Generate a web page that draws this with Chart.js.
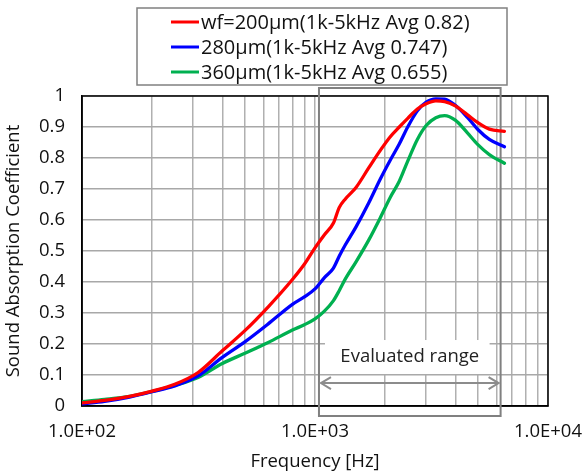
<!DOCTYPE html>
<html>
<head>
<meta charset="utf-8">
<script src="https://cdn.jsdelivr.net/npm/chart.js@4/dist/chart.umd.min.js"></script>
<style>
  html, body { margin: 0; padding: 0; background: #fff; }
  #wrap { width: 588px; height: 473px; position: relative; }
</style>
</head>
<body>
<div id="wrap"><canvas id="c" width="588" height="473"></canvas></div>
<script>
// Frequency points [Hz]
const frequencies = [100, 125, 160, 200, 250, 315, 400, 500, 630, 800, 900, 1000, 1100, 1200, 1270, 1350, 1500, 1700, 1900, 2100, 2300, 2500, 2750, 3000, 3300, 3600, 4000, 4500, 5000, 5600, 6500];

// Sound absorption coefficient per fibre width
const alpha200 = [0.010, 0.018, 0.031, 0.048, 0.070, 0.108, 0.178, 0.243, 0.320, 0.408, 0.457, 0.510, 0.553, 0.590, 0.640, 0.668, 0.705, 0.768, 0.823, 0.868, 0.900, 0.928, 0.958, 0.975, 0.984, 0.982, 0.968, 0.940, 0.914, 0.893, 0.886];
const alpha280 = [0.007, 0.015, 0.029, 0.046, 0.065, 0.097, 0.157, 0.207, 0.265, 0.328, 0.352, 0.378, 0.415, 0.445, 0.483, 0.520, 0.578, 0.655, 0.730, 0.792, 0.845, 0.900, 0.952, 0.980, 0.991, 0.990, 0.970, 0.932, 0.892, 0.860, 0.836];
const alpha360 = [0.014, 0.021, 0.031, 0.047, 0.066, 0.092, 0.137, 0.170, 0.205, 0.245, 0.262, 0.281, 0.307, 0.340, 0.372, 0.410, 0.465, 0.535, 0.605, 0.672, 0.725, 0.790, 0.860, 0.905, 0.930, 0.937, 0.922, 0.882, 0.843, 0.811, 0.783];

const seriesLabels = ['wf=200\u03bcm(1k-5kHz Avg 0.82)', '280\u03bcm(1k-5kHz Avg 0.747)', '360\u03bcm(1k-5kHz Avg 0.655)'];
const seriesColors = ['#ff0000', '#0000ff', '#00b050'];

// Grid ticks on the log axis (1..9 per decade) and decade labels
const xGridValues = [100, 200, 300, 400, 500, 600, 700, 800, 900, 1000, 2000, 3000, 4000, 5000, 6000, 7000, 8000, 9000, 10000];
const xDecadeLabels = { 100: '1.0E+02', 1000: '1.0E+03', 10000: '1.0E+04' };

// Evaluated range band
const rangeStart = 1040;
const rangeEnd = 6260;
const rangeText = 'Evaluated range';

const FONT = '"Open Sans", "Noto Sans", sans-serif';

function toPoints(vals) {
  return frequencies.map((f, i) => ({ x: f, y: vals[i] }));
}

const rangePlugin = {
  id: 'rangeBox',
  beforeDatasetsDraw(chart) {
    const { ctx, chartArea, scales } = chart;
    const xs = scales.x, ys = scales.y;
    const x0 = xs.getPixelForValue(rangeStart);
    const x1 = xs.getPixelForValue(rangeEnd);
    const top = chartArea.top - 8;
    const bottom = chartArea.bottom + 10;
    ctx.save();
    // plot frame
    ctx.strokeStyle = '#000';
    ctx.lineWidth = 1.5;
    ctx.strokeRect(chartArea.left, chartArea.top, chartArea.right - chartArea.left, chartArea.bottom - chartArea.top);
    // label background
    const ty = ys.getPixelForValue(0.158);
    ctx.fillStyle = '#fff';
    ctx.fillRect(x0 + 6, ty - 17, (x1 - x0) - 17, 34);
    // band outline
    ctx.strokeStyle = '#808080';
    ctx.lineWidth = 2;
    ctx.strokeRect(x0, top, x1 - x0, bottom - top);
    // label
    ctx.fillStyle = '#222';
    ctx.font = '18.5px ' + FONT;
    ctx.textAlign = 'center';
    ctx.textBaseline = 'middle';
    ctx.fillText(rangeText, (x0 + x1) / 2, ty);
    // double arrow
    const ay = ys.getPixelForValue(0.074);
    const ax0 = x0 + 2, ax1 = x1 - 2;
    ctx.strokeStyle = '#8c8c8c';
    ctx.lineWidth = 2;
    ctx.beginPath();
    ctx.moveTo(ax0, ay); ctx.lineTo(ax1, ay);
    ctx.moveTo(ax0 + 10, ay - 6); ctx.lineTo(ax0, ay); ctx.lineTo(ax0 + 10, ay + 6);
    ctx.moveTo(ax1 - 10, ay - 6); ctx.lineTo(ax1, ay); ctx.lineTo(ax1 - 10, ay + 6);
    ctx.stroke();
    ctx.restore();
  }
};

const legendPlugin = {
  id: 'boxLegend',
  afterDraw(chart) {
    const { ctx } = chart;
    const bx = 137, by = 8, bw = 370, bh = 77;
    ctx.save();
    ctx.fillStyle = '#fff';
    ctx.fillRect(bx, by, bw, bh);
    ctx.strokeStyle = '#808080';
    ctx.lineWidth = 1.5;
    ctx.strokeRect(bx, by, bw, bh);
    ctx.font = '20px ' + FONT;
    ctx.textBaseline = 'middle';
    ctx.textAlign = 'left';
    chart.data.datasets.forEach((ds, i) => {
      const y = 22 + i * 25;
      ctx.strokeStyle = ds.borderColor;
      ctx.lineWidth = 3;
      ctx.beginPath();
      ctx.moveTo(171, y); ctx.lineTo(199, y);
      ctx.stroke();
      ctx.fillStyle = '#111';
      ctx.fillText(ds.label, 201, y + 1);
    });
    ctx.restore();
  }
};

new Chart(document.getElementById('c'), {
  type: 'line',
  data: {
    datasets: [
      { label: seriesLabels[0], data: toPoints(alpha200), borderColor: seriesColors[0] },
      { label: seriesLabels[1], data: toPoints(alpha280), borderColor: seriesColors[1] },
      { label: seriesLabels[2], data: toPoints(alpha360), borderColor: seriesColors[2] }
    ]
  },
  options: {
    responsive: false,
    animation: false,
    layout: { padding: { top: 96, right: 40, bottom: 0, left: 0 } },
    elements: {
      line: { borderWidth: 3.3, cubicInterpolationMode: 'monotone', borderCapStyle: 'round', fill: false },
      point: { radius: 0 }
    },
    plugins: { legend: { display: false }, tooltip: { enabled: false } },
    scales: {
      x: {
        type: 'logarithmic',
        min: 100,
        max: 10000,
        afterBuildTicks(scale) { scale.ticks = xGridValues.map(v => ({ value: v })); },
        afterFit(scale) { scale.height = 67; scale.paddingLeft = 0; scale.paddingRight = 0; },
        grid: { color: '#b0b0b0', lineWidth: 1.5, drawTicks: false },
        border: { color: '#000', width: 1.5 },
        ticks: {
          autoSkip: false, maxRotation: 0, minRotation: 0, padding: 15,
          color: '#111', font: { family: FONT, size: 18.5 },
          callback: (v) => xDecadeLabels[v] || ''
        },
        title: { display: true, text: 'Frequency [Hz]', color: '#111', font: { family: FONT, size: 18.5 }, padding: { top: 0, bottom: 0 } }
      },
      y: {
        min: 0,
        max: 1,
        afterFit(scale) { scale.width = 82; scale.paddingTop = 0; scale.paddingBottom = 0; },
        grid: { color: '#a8a8a8', lineWidth: 1.5, drawTicks: false },
        border: { color: '#000', width: 1.5 },
        ticks: {
          stepSize: 0.1, padding: 17, color: '#111', font: { family: FONT, size: 18.5 },
          callback: (v) => (v === 0 ? '0' : (Math.abs(v - 1) < 1e-9 ? '1' : v.toFixed(1)))
        },
        title: { display: true, text: 'Sound Absorption Coefficient', color: '#111', font: { family: FONT, size: 18.5 }, padding: { top: 3, bottom: 4 } }
      }
    }
  },
  plugins: [rangePlugin, legendPlugin]
});
</script>
</body>
</html>
